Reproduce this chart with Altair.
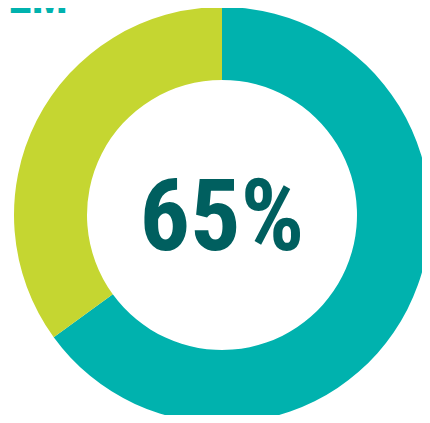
import altair as alt
import pandas as pd

categories = ["Share", "Rest"]
values = [65, 35]
colors = ["#00B2AE", "#C5D631"]
order = [1, 2]
center_label = "65%"
corner_label = "EM"

df = pd.DataFrame({"category": categories, "value": values, "order": order})

W, H = 414, 407
CX, CY = 214, 207

donut = alt.Chart(df).mark_arc(outerRadius=208, innerRadius=135, stroke=None).encode(
    theta=alt.Theta("value:Q", stack=True),
    color=alt.Color("category:N", scale=alt.Scale(domain=categories, range=colors), legend=None),
    order=alt.Order("order:Q"),
    x=alt.value(CX),
    y=alt.value(CY),
)

center = alt.Chart(pd.DataFrame({"t": [center_label]})).mark_text(
    font="Roboto Condensed, Roboto, sans-serif",
    fontWeight="bold", fontSize=100, color="#005F5F", align="center", baseline="alphabetic",
).encode(text="t:N", x=alt.value(CX), y=alt.value(242))

corner = alt.Chart(pd.DataFrame({"t": [corner_label]})).mark_text(
    font="Roboto Condensed, Roboto, sans-serif",
    fontWeight="bold", fontSize=48, color="#00B2AE", align="right", baseline="alphabetic",
).encode(text="t:N", x=alt.value(60), y=alt.value(5))

chart = alt.layer(donut, center, corner).properties(
    width=W, height=H, padding=0, autosize=alt.AutoSizeParams(type="none")
).configure_view(stroke=None)

chart.save("out.html", embed_options={"renderer": "svg", "actions": False})
